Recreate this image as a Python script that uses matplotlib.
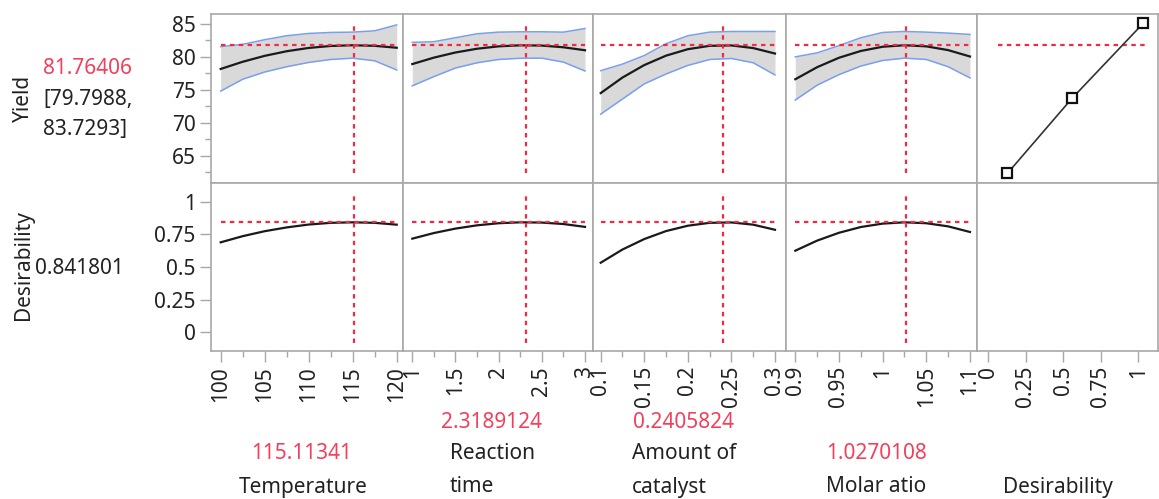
import numpy as np
import matplotlib
matplotlib.use("Agg")
import matplotlib.pyplot as plt
from matplotlib.ticker import MultipleLocator, FixedLocator

plt.rcParams['font.family'] = ['Noto Sans', 'DejaVu Sans']

W, H = 1159, 499

# 因子ごとのプロファイル値
temp_x = [100, 102.5, 105, 107.5, 110, 112.5, 115, 117.5, 120]
temp_yield = [78.16, 79.25, 80.15, 80.85, 81.35, 81.65, 81.76, 81.67, 81.38]
temp_upper = [81.55, 81.9, 82.6, 83.2, 83.55, 83.7, 83.75, 83.95, 84.85]
temp_lower = [74.8, 76.6, 77.7, 78.5, 79.15, 79.6, 79.8, 79.4, 78.0]
temp_desir = [0.689, 0.736, 0.774, 0.803, 0.825, 0.838, 0.842, 0.838, 0.824]

time_x = [1, 1.25, 1.5, 1.75, 2, 2.25, 2.5, 2.75, 3]
time_yield = [78.9, 79.88, 80.66, 81.23, 81.59, 81.75, 81.71, 81.45, 81.0]
time_upper = [82.2, 82.3, 82.9, 83.5, 83.75, 83.8, 83.8, 83.75, 84.3]
time_lower = [75.6, 77.0, 78.3, 79.1, 79.6, 79.78, 79.8, 79.2, 77.85]
time_desir = [0.717, 0.760, 0.794, 0.819, 0.835, 0.842, 0.840, 0.829, 0.807]

cat_x = [0.1, 0.125, 0.15, 0.175, 0.2, 0.225, 0.25, 0.275, 0.3]
cat_yield = [74.5, 76.86, 78.75, 80.18, 81.16, 81.67, 81.73, 81.33, 80.5]
cat_upper = [77.9, 78.9, 80.2, 82.0, 83.2, 83.75, 83.85, 83.85, 83.85]
cat_lower = [71.3, 73.6, 75.9, 77.4, 78.7, 79.6, 79.75, 79.1, 77.25]
cat_desir = [0.533, 0.634, 0.714, 0.775, 0.816, 0.838, 0.841, 0.824, 0.785]

mol_x = [0.9, 0.925, 0.95, 0.975, 1.0, 1.025, 1.05, 1.075, 1.1]
mol_yield = [76.6, 78.43, 79.86, 80.89, 81.53, 81.76, 81.59, 81.02, 80.05]
mol_upper = [80.0, 80.6, 81.7, 82.9, 83.7, 83.85, 83.75, 83.6, 83.4]
mol_lower = [73.45, 75.7, 77.3, 78.6, 79.45, 79.8, 79.6, 78.5, 76.8]
mol_desir = [0.625, 0.702, 0.762, 0.806, 0.832, 0.842, 0.835, 0.811, 0.768]

# 望ましさ関数の点
desir_pts_x = [0.127, 0.558, 1.033]
desir_pts_y = [62.3, 73.7, 85.1]

current_x = [115.11341, 2.3189124, 0.2405824, 1.0270108]
current_yield = 81.76406
yield_ci = [79.7988, 83.7293]
current_desir = 0.841801

# 目盛り
temp_ticks = [100, 105, 110, 115, 120]
time_ticks = [1, 1.5, 2, 2.5, 3]
cat_ticks = [0.1, 0.15, 0.2, 0.25, 0.3]
mol_ticks = [0.9, 0.95, 1, 1.05, 1.1]
desir_ticks = [0, 0.25, 0.5, 0.75, 1]
yield_ticks = [65, 70, 75, 80, 85]

factors = [
    (temp_x, temp_yield, temp_upper, temp_lower, temp_desir),
    (time_x, time_yield, time_upper, time_lower, time_desir),
    (cat_x, cat_yield, cat_upper, cat_lower, cat_desir),
    (mol_x, mol_yield, mol_upper, mol_lower, mol_desir),
]
xticks_all = [temp_ticks, time_ticks, cat_ticks, mol_ticks, desir_ticks]
xlims = [(98.9, 120.68), (0.889, 3.096), (0.0915, 0.3123), (0.889, 1.1077), (-0.077, 1.131)]
xminor = [2.5, 0.25, 0.025, 0.025, None]

col_edges = [211, 402.7, 593.3, 785.7, 976.7, 1158]
row_edges = [14, 182.7, 350.7]
yield_lim = (60.9, 86.5)
desir_lim = (-0.14, 1.145)

RED = "#ee2a45"
RED_TXT = "#f2405c"
GRAY = "#a8a8a8"
TXT = "#222222"
FS = 15


def add_ax(fig, c, r):
    x0, x1 = col_edges[c], col_edges[c + 1]
    y0, y1 = row_edges[r], row_edges[r + 1]
    return fig.add_axes([x0 / W, 1 - y1 / H, (x1 - x0) / W, (y1 - y0) / H])


fig = plt.figure(figsize=(W / 100, H / 100), dpi=100)
dash = (0, (2, 2))

axes = [[add_ax(fig, c, r) for c in range(5)] for r in range(2)]

for r in range(2):
    for c in range(5):
        ax = axes[r][c]
        for s in ax.spines.values():
            s.set_color(GRAY)
            s.set_linewidth(1.2)
        ax.tick_params(which="both", color=GRAY, labelcolor=TXT, labelsize=FS, direction="out")
        ax.tick_params(which="major", length=8, width=1)
        ax.tick_params(which="minor", length=4.5, width=1)
        # y軸
        if c == 0:
            if r == 0:
                ax.set_yticks(yield_ticks)
                ax.yaxis.set_minor_locator(MultipleLocator(2.5))
            else:
                ax.set_yticks(desir_ticks)
                ax.set_yticklabels([f"{v:g}" for v in desir_ticks])
            ax.tick_params(axis="y", pad=3)
        else:
            ax.set_yticks([])
        # x軸
        if r == 1:
            ax.set_xticks(xticks_all[c])
            ax.set_xticklabels([f"{v:g}" for v in xticks_all[c]])
            if xminor[c]:
                ax.xaxis.set_minor_locator(MultipleLocator(xminor[c]))
            ax.tick_params(axis="x", labelrotation=90, pad=3)
        else:
            ax.set_xticks([])
        ax.set_xlim(*xlims[c])
        ax.set_ylim(*(yield_lim if r == 0 else desir_lim))

# 因子パネル
for c, (fx_, fy_, fu, fl, fd) in enumerate(factors):
    ax = axes[0][c]
    ax.fill_between(fx_, fl, fu, color="#d9d9d9", lw=0, zorder=1)
    ax.plot(fx_, fu, color="#7a9ff0", lw=1.1, zorder=2)
    ax.plot(fx_, fl, color="#7a9ff0", lw=1.1, zorder=2)
    ax.plot(fx_, fy_, color="#1a1a1a", lw=1.6, zorder=3)
    ax.hlines(current_yield, fx_[0], fx_[-1], color=RED, lw=1.6, linestyles=dash, zorder=4)
    ax.vlines(current_x[c], 62.4, 85.1, color=RED, lw=1.6, linestyles=dash, zorder=4)

    ax2 = axes[1][c]
    ax2.plot(fx_, fd, color="#1a1a1a", lw=1.6, zorder=3)
    ax2.hlines(current_desir, fx_[0], fx_[-1], color=RED, lw=1.6, linestyles=dash, zorder=4)
    ax2.vlines(current_x[c], -0.08, 1.07, color=RED, lw=1.6, linestyles=dash, zorder=4)

# 望ましさパネル
axd = axes[0][4]
axd.plot(desir_pts_x, desir_pts_y, color="#333333", lw=1.2, marker="s", ms=7,
         mfc="white", mec="#111111", mew=1.6, zorder=3)
axd.hlines(current_yield, 0.065, 1.06, color=RED, lw=1.6, linestyles=dash, zorder=2)


def ftext(px, py, s, **kw):
    kw.setdefault("fontsize", FS)
    kw.setdefault("color", TXT)
    kw.setdefault("va", "center")
    fig.text(px / W, 1 - py / H, s, **kw)


# 左側ラベル
ftext(23, 98, "Yield", rotation=90, ha="center")
ftext(23, 265, "Desirability", rotation=90, ha="center")
ftext(43, 68, f"{current_yield:.5f}", color=RED_TXT, ha="left")
ftext(43, 99, f"[{yield_ci[0]:.4f},", ha="left")
ftext(43, 130, f"{yield_ci[1]:.4f}]", ha="left")
ftext(35, 268, f"{current_desir:.6f}", ha="left")

# 下側ラベル
ftext(491.7, 423, "2.3189124", color=RED_TXT, ha="center")
ftext(684, 423, "0.2405824", color=RED_TXT, ha="center")
ftext(301.7, 453.5, "115.11341", color=RED_TXT, ha="center")
ftext(876.7, 453.5, "1.0270108", color=RED_TXT, ha="center")
ftext(303.5, 487, "Temperature", ha="center")
ftext(450, 453.5, "Reaction", ha="left")
ftext(450, 487, "time", ha="left")
ftext(632, 453.5, "Amount of", ha="left")
ftext(632, 487, "catalyst", ha="left")
ftext(876, 487, "Molar atio", ha="center")
ftext(1058, 488, "Desirability", ha="center")

fig.savefig("out.png", dpi=100)
